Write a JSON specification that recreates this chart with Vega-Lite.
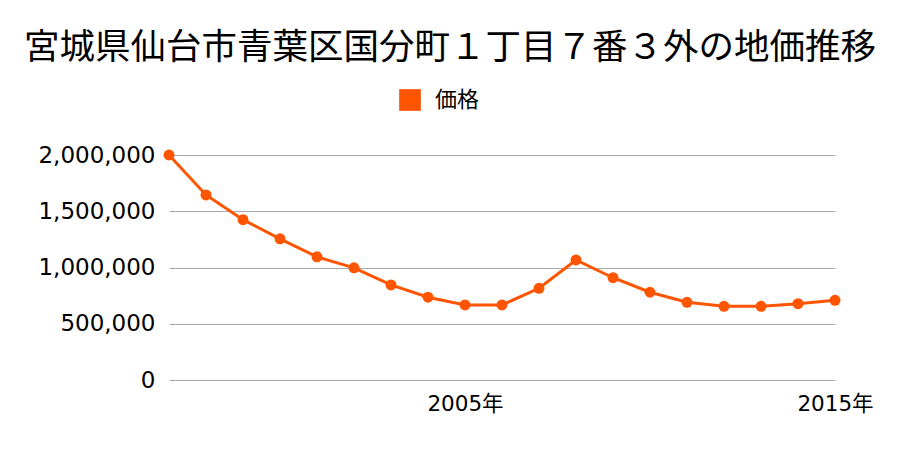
{
  "$schema": "https://vega.github.io/schema/vega-lite/v6.json",
  "autosize": "none",
  "width": 666,
  "height": 225,
  "padding": {"left": 169, "top": 155, "right": 65, "bottom": 70},
  "background": "white",
  "title": {
    "text": "宮城県仙台市青葉区国分町１丁目７番３外の地価推移",
    "font": "Noto Sans CJK JP",
    "fontSize": 35.5,
    "fontWeight": "normal",
    "color": "#000000",
    "anchor": "middle",
    "dx": -52,
    "offset": 22
  },
  "data": {
    "values": [
      {"year": 1997, "price": 2000000, "series": "価格"},
      {"year": 1998, "price": 1645000, "series": "価格"},
      {"year": 1999, "price": 1425000, "series": "価格"},
      {"year": 2000, "price": 1255000, "series": "価格"},
      {"year": 2001, "price": 1095000, "series": "価格"},
      {"year": 2002, "price": 997000, "series": "価格"},
      {"year": 2003, "price": 845000, "series": "価格"},
      {"year": 2004, "price": 736000, "series": "価格"},
      {"year": 2005, "price": 667000, "series": "価格"},
      {"year": 2006, "price": 667000, "series": "価格"},
      {"year": 2007, "price": 815000, "series": "価格"},
      {"year": 2008, "price": 1067000, "series": "価格"},
      {"year": 2009, "price": 909000, "series": "価格"},
      {"year": 2010, "price": 780000, "series": "価格"},
      {"year": 2011, "price": 691000, "series": "価格"},
      {"year": 2012, "price": 655000, "series": "価格"},
      {"year": 2013, "price": 655000, "series": "価格"},
      {"year": 2014, "price": 678000, "series": "価格"},
      {"year": 2015, "price": 708000, "series": "価格"}
    ]
  },
  "encoding": {
    "x": {
      "field": "year",
      "type": "quantitative",
      "scale": {"domain": [1997, 2015], "nice": false, "zero": false},
      "axis": {
        "title": null,
        "values": [2005, 2015],
        "format": "d",
        "labelExpr": "datum.label + '年'",
        "grid": false,
        "domain": false,
        "ticks": false,
        "labelFont": "DejaVu Sans, Noto Sans CJK JP",
        "labelFontSize": 21.5,
        "labelColor": "#000000",
        "labelPadding": 13,
        "labelOverlap": false,
        "labelFlush": false
      }
    },
    "y": {
      "field": "price",
      "type": "quantitative",
      "scale": {"domain": [0, 2000000], "nice": false},
      "axis": {
        "title": null,
        "values": [0, 500000, 1000000, 1500000, 2000000],
        "format": ",d",
        "grid": true,
        "gridColor": "#aaaaaa",
        "gridWidth": 1,
        "domain": false,
        "ticks": false,
        "labelFont": "DejaVu Sans",
        "labelFontSize": 23,
        "labelColor": "#000000",
        "labelPadding": 14
      }
    }
  },
  "layer": [
    {
      "mark": {"type": "line", "color": "#ff5500", "strokeWidth": 3},
      "encoding": {}
    },
    {
      "mark": {"type": "point", "filled": true, "opacity": 1, "size": 120},
      "encoding": {
        "color": {
          "field": "series",
          "type": "nominal",
          "scale": {"range": ["#ff5500"]},
          "legend": {
            "title": null,
            "orient": "none",
            "legendX": 229,
            "legendY": -67,
            "symbolType": "square",
            "symbolSize": 470,
            "symbolOpacity": 1,
            "labelFont": "Noto Sans CJK JP",
            "labelFontSize": 22,
            "labelColor": "#000000",
            "labelOffset": 13
          }
        }
      }
    }
  ],
  "config": {"view": {"stroke": null}}
}
